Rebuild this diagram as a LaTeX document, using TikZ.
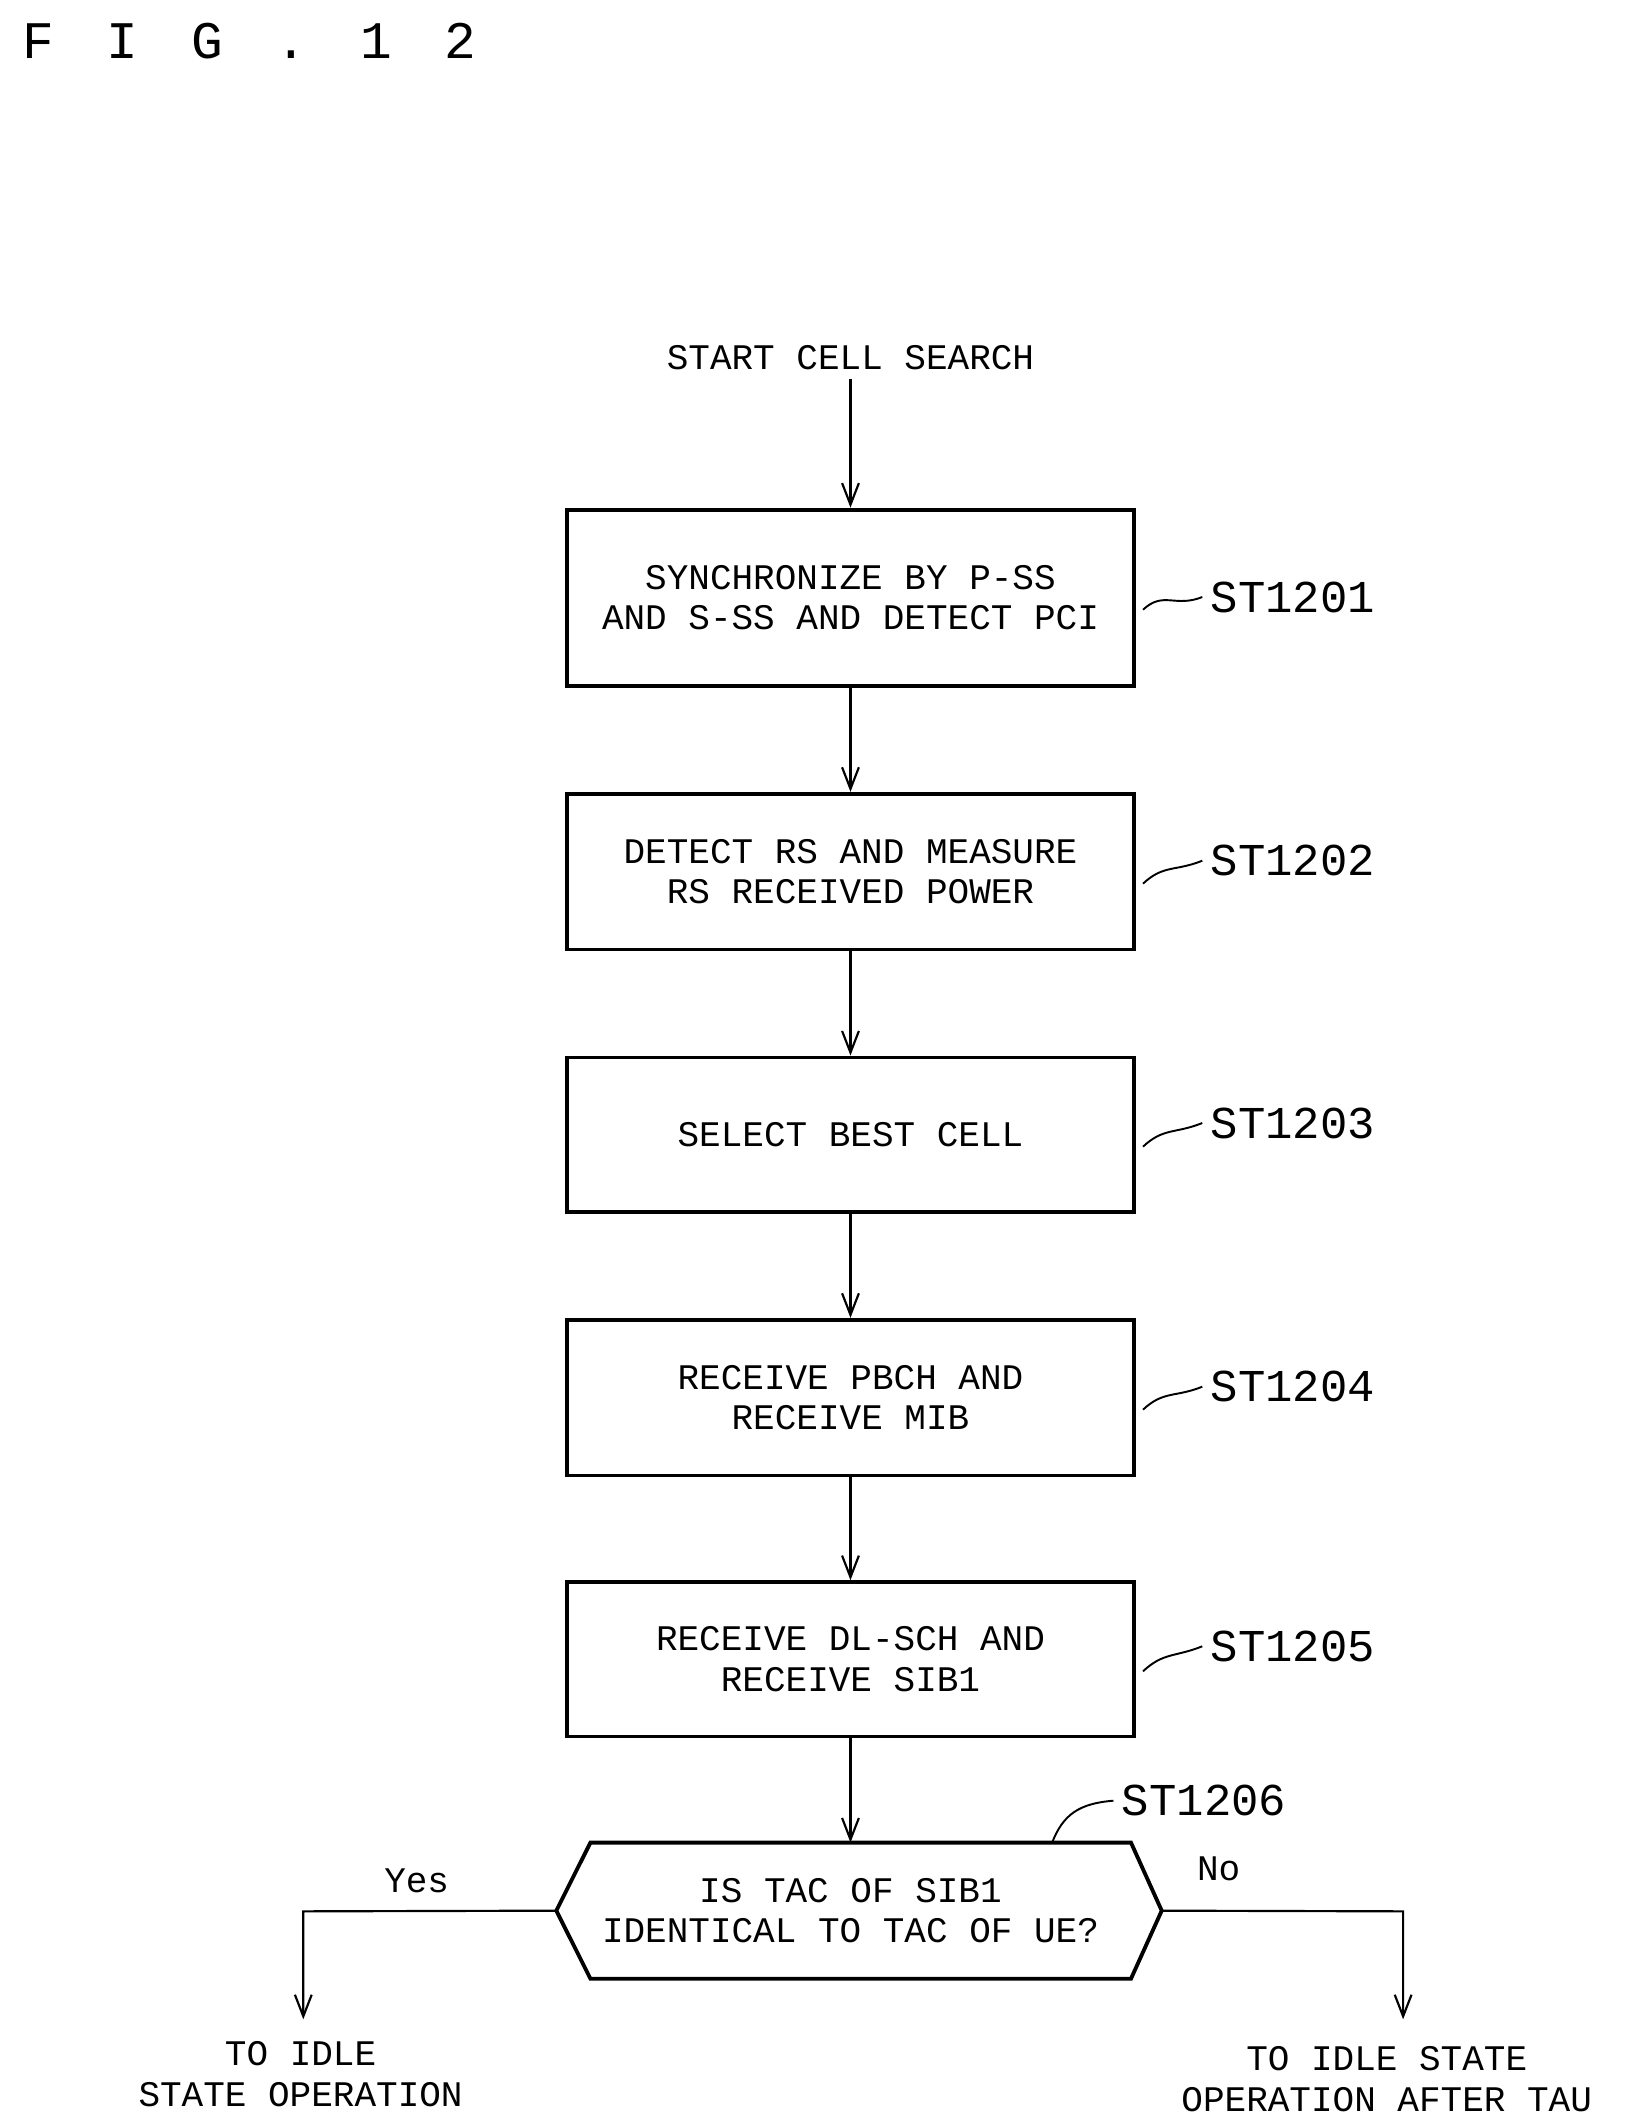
\documentclass[tikz,border=0pt]{standalone}
\usepackage{fontspec}
\setmainfont{Liberation Mono}
\usetikzlibrary{arrows.meta}
\begin{document}
\begin{tikzpicture}[x=0.02cm,y=-0.02cm,
  txt/.style={font=\fontsize{15}{17}\selectfont,align=center},
  stepbox/.style={draw,line width=1.6pt,minimum width=8.3cm,txt},
  lbl/.style={font=\fontsize{19}{20}\selectfont,anchor=west},
  flow/.style={-{Straight Barb[length=9pt,width=7pt]},line width=0.9pt},
  lead/.style={line width=0.8pt}]
\useasboundingbox (0,0) rectangle (1190,1551);
\def\cx{622.5};

\node[font=\fontsize{22}{22}\selectfont,anchor=west] (fig) at (10,30) {F\hspace{1em}I\hspace{1em}G\hspace{1em}.\hspace{1em}1\hspace{1em}2};

\node[txt] (start) at (\cx,262) {START CELL SEARCH};

\node[stepbox,minimum height=2.58cm] (s1) at (\cx,437.5) {SYNCHRONIZE BY P-SS\\AND S-SS AND DETECT PCI};
\node[stepbox,minimum height=2.28cm] (s2) at (\cx,638) {DETECT RS AND MEASURE\\RS RECEIVED POWER};
\node[stepbox,minimum height=2.26cm] (s3) at (\cx,830.5) {SELECT BEST CELL};
\node[stepbox,minimum height=2.28cm] (s4) at (\cx,1023) {RECEIVE PBCH AND\\RECEIVE MIB};
\node[stepbox,minimum height=2.26cm] (s5) at (\cx,1214.5) {RECEIVE DL-SCH AND\\RECEIVE SIB1};

% decision
\node[txt,minimum width=8cm,minimum height=1.98cm] (q) at (\cx,1398.5) {IS TAC OF SIB1\\IDENTICAL TO TAC OF UE?};
\coordinate (qw) at ([xshift=-0.3cm]q.west);
\coordinate (qe) at ([xshift=0.55cm]q.east);
\draw[line width=1.6pt] (qw) -- ([xshift=0.2cm]q.north west) -- ([xshift=0.1cm]q.north east) -- (qe)
  -- ([xshift=0.1cm]q.south east) -- ([xshift=0.2cm]q.south west) -- cycle;

\draw[flow] (start) -- (s1);
\draw[flow] (s1) -- (s2);
\draw[flow] (s2) -- (s3);
\draw[flow] (s3) -- (s4);
\draw[flow] (s4) -- (s5);
\draw[flow] (s5) -- (q.north);

% step labels
\node[lbl] (l1) at (880,437) {ST1201};
\node[lbl] (l2) at (880,630) {ST1202};
\node[lbl] (l3) at (880,822) {ST1203};
\node[lbl] (l4) at (880,1015) {ST1204};
\node[lbl] (l5) at (880,1205) {ST1205};
\node[lbl] (l6) at (815,1318) {ST1206};
\foreach \s/\l in {s1/l1,s2/l2,s3/l3,s4/l4,s5/l5}
  \draw[lead] ([xshift=3pt,yshift=-5pt]\s.east) .. controls +(15,-14) and +(-20,8) .. (\l.west);
\draw[lead] (770,1349) .. controls (778,1328) and (790,1320) .. (l6.west);

% branches
\coordinate (yesc) at (222,1399);
\coordinate (yese) at (222,1478);
\coordinate (noc) at (1027,1399);
\coordinate (noe) at (1027,1478);
\node[txt] (yes) at (305,1377) {Yes};
\node[txt] (no) at (892,1368) {No};
\node[txt] (idle) at (220,1518) {TO IDLE\\STATE OPERATION};
\node[txt] (tau) at (1015,1522) {TO IDLE STATE\\OPERATION AFTER TAU};
\draw[flow] (qw) -- (yesc) -- (yese);
\draw[flow] (qe) -- (noc) -- (noe);
\end{tikzpicture}
\end{document}
